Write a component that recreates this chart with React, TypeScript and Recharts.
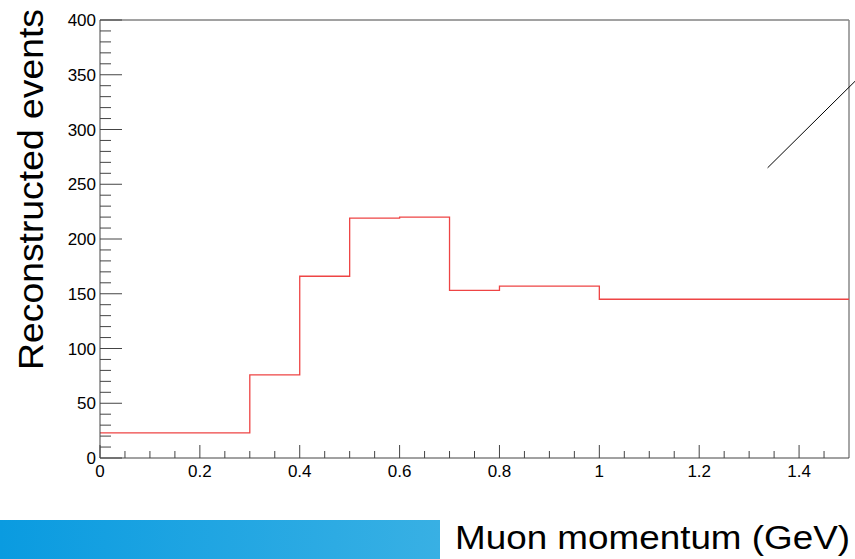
import React from 'react';
import { LineChart, Line, XAxis, YAxis, ReferenceLine } from 'recharts';

// Histogram: bin low edges (GeV) and reconstructed event counts
const binLowEdges = [0, 0.1, 0.2, 0.3, 0.4, 0.5, 0.6, 0.7, 0.8, 0.9, 1.0];
const binUpperEdge = 1.5;
const eventCounts = [23, 23, 23, 76, 166, 219, 220, 153, 157, 157, 145];

// Axis ticks
const xMajorTicks = [0, 0.2, 0.4, 0.6, 0.8, 1, 1.2, 1.4];
const xAllTicks = [0, 0.05, 0.1, 0.15, 0.2, 0.25, 0.3, 0.35, 0.4, 0.45, 0.5, 0.55, 0.6, 0.65, 0.7, 0.75, 0.8, 0.85, 0.9, 0.95, 1, 1.05, 1.1, 1.15, 1.2, 1.25, 1.3, 1.35, 1.4, 1.45];
const yMajorTicks = [0, 50, 100, 150, 200, 250, 300, 350, 400];
const yAllTicks: number[] = [];
for (let v = 0; v <= 400; v += 10) yAllTicks.push(v);

// Annotation line (data coords)
const arrowStart = { x: 1.337, y: 265 };
const arrowEnd = { x: 1.512, y: 344 };

const xTitle = 'Muon momentum (GeV)';
const yTitle = 'Reconstructed events';

const data = [
  ...binLowEdges.map((x, i) => ({ x, count: eventCounts[i] })),
  { x: binUpperEdge, count: eventCounts[eventCounts.length - 1] },
];

const FONT = '"Liberation Sans", Arial, sans-serif';

const isIn = (v: number, arr: number[]) => arr.some((a) => Math.abs(a - v) < 1e-6);

const XTick = (props: any) => {
  const { x, y, payload } = props;
  const v = payload.value as number;
  const major = isIn(v, xMajorTicks);
  return (
    <g>
      <line x1={x} x2={x} y1={y} y2={y - (major ? 13 : 7)} stroke="#444" strokeWidth={1} />
      {major && (
        <text x={x} y={y + 19} textAnchor="middle" fontSize={17} fontFamily={FONT} fill="#000">
          {String(Math.round(v * 10) / 10)}
        </text>
      )}
    </g>
  );
};

const YTick = (props: any) => {
  const { x, y, payload } = props;
  const v = payload.value as number;
  const major = isIn(v, yMajorTicks);
  return (
    <g>
      <line x1={x} x2={x + (major ? 22 : 11)} y1={y} y2={y} stroke="#444" strokeWidth={1} />
      {major && (
        <text x={x - 4} y={y + 6} textAnchor="end" fontSize={17} fontFamily={FONT} fill="#000">
          {String(v)}
        </text>
      )}
    </g>
  );
};

export default function App() {
  return (
    <div style={{ position: 'absolute', left: 0, top: 0, width: 855, height: 559, background: '#fff' }}>
      <LineChart
        width={855}
        height={559}
        data={data}
        margin={{ top: 20, right: 6, bottom: 71, left: 0 }}
      >
        <XAxis
          dataKey="x"
          type="number"
          domain={[0, 1.5]}
          ticks={xAllTicks}
          interval={0}
          tickSize={0}
          tickMargin={0}
          tickLine={false}
          tick={<XTick />}
          axisLine={{ stroke: '#444' }}
          height={30}
          allowDataOverflow
        />
        <YAxis
          type="number"
          domain={[0, 400]}
          ticks={yAllTicks}
          interval={0}
          tickSize={0}
          tickMargin={0}
          tickLine={false}
          tick={<YTick />}
          axisLine={{ stroke: '#444' }}
          width={100}
          allowDataOverflow
        />
        <ReferenceLine y={400} stroke="#444" strokeWidth={1} />
        <ReferenceLine x={1.5} stroke="#888" strokeWidth={1.5} />
        <Line
          dataKey="count"
          type="stepAfter"
          stroke="#ee4444"
          strokeWidth={1.3}
          dot={false}
          activeDot={false}
          isAnimationActive={false}
        />
        <ReferenceLine
          segment={[arrowStart, arrowEnd]}
          stroke="#000"
          strokeWidth={1}
          ifOverflow="visible"
        />
      </LineChart>
      <svg
        width={855}
        height={559}
        style={{ position: 'absolute', left: 0, top: 0, pointerEvents: 'none' }}
      >
        <defs>
          <linearGradient id="bar" x1="0" x2="1" y1="0" y2="0">
            <stop offset="0%" stopColor="#0a9be0" />
            <stop offset="100%" stopColor="#38b0e4" />
          </linearGradient>
        </defs>
        <rect x={0} y={520} width={440} height={39} fill="url(#bar)" />
        <text
          x={455}
          y={549}
          fontSize={34}
          fontFamily={FONT}
          fill="#000"
          textLength={395}
          lengthAdjust="spacingAndGlyphs"
        >
          {xTitle}
        </text>
        <text
          transform="translate(43, 370) rotate(-90)"
          x={0}
          y={0}
          fontSize={35}
          fontFamily={FONT}
          fill="#000"
          textLength={361}
          lengthAdjust="spacingAndGlyphs"
        >
          {yTitle}
        </text>
      </svg>
    </div>
  );
}
